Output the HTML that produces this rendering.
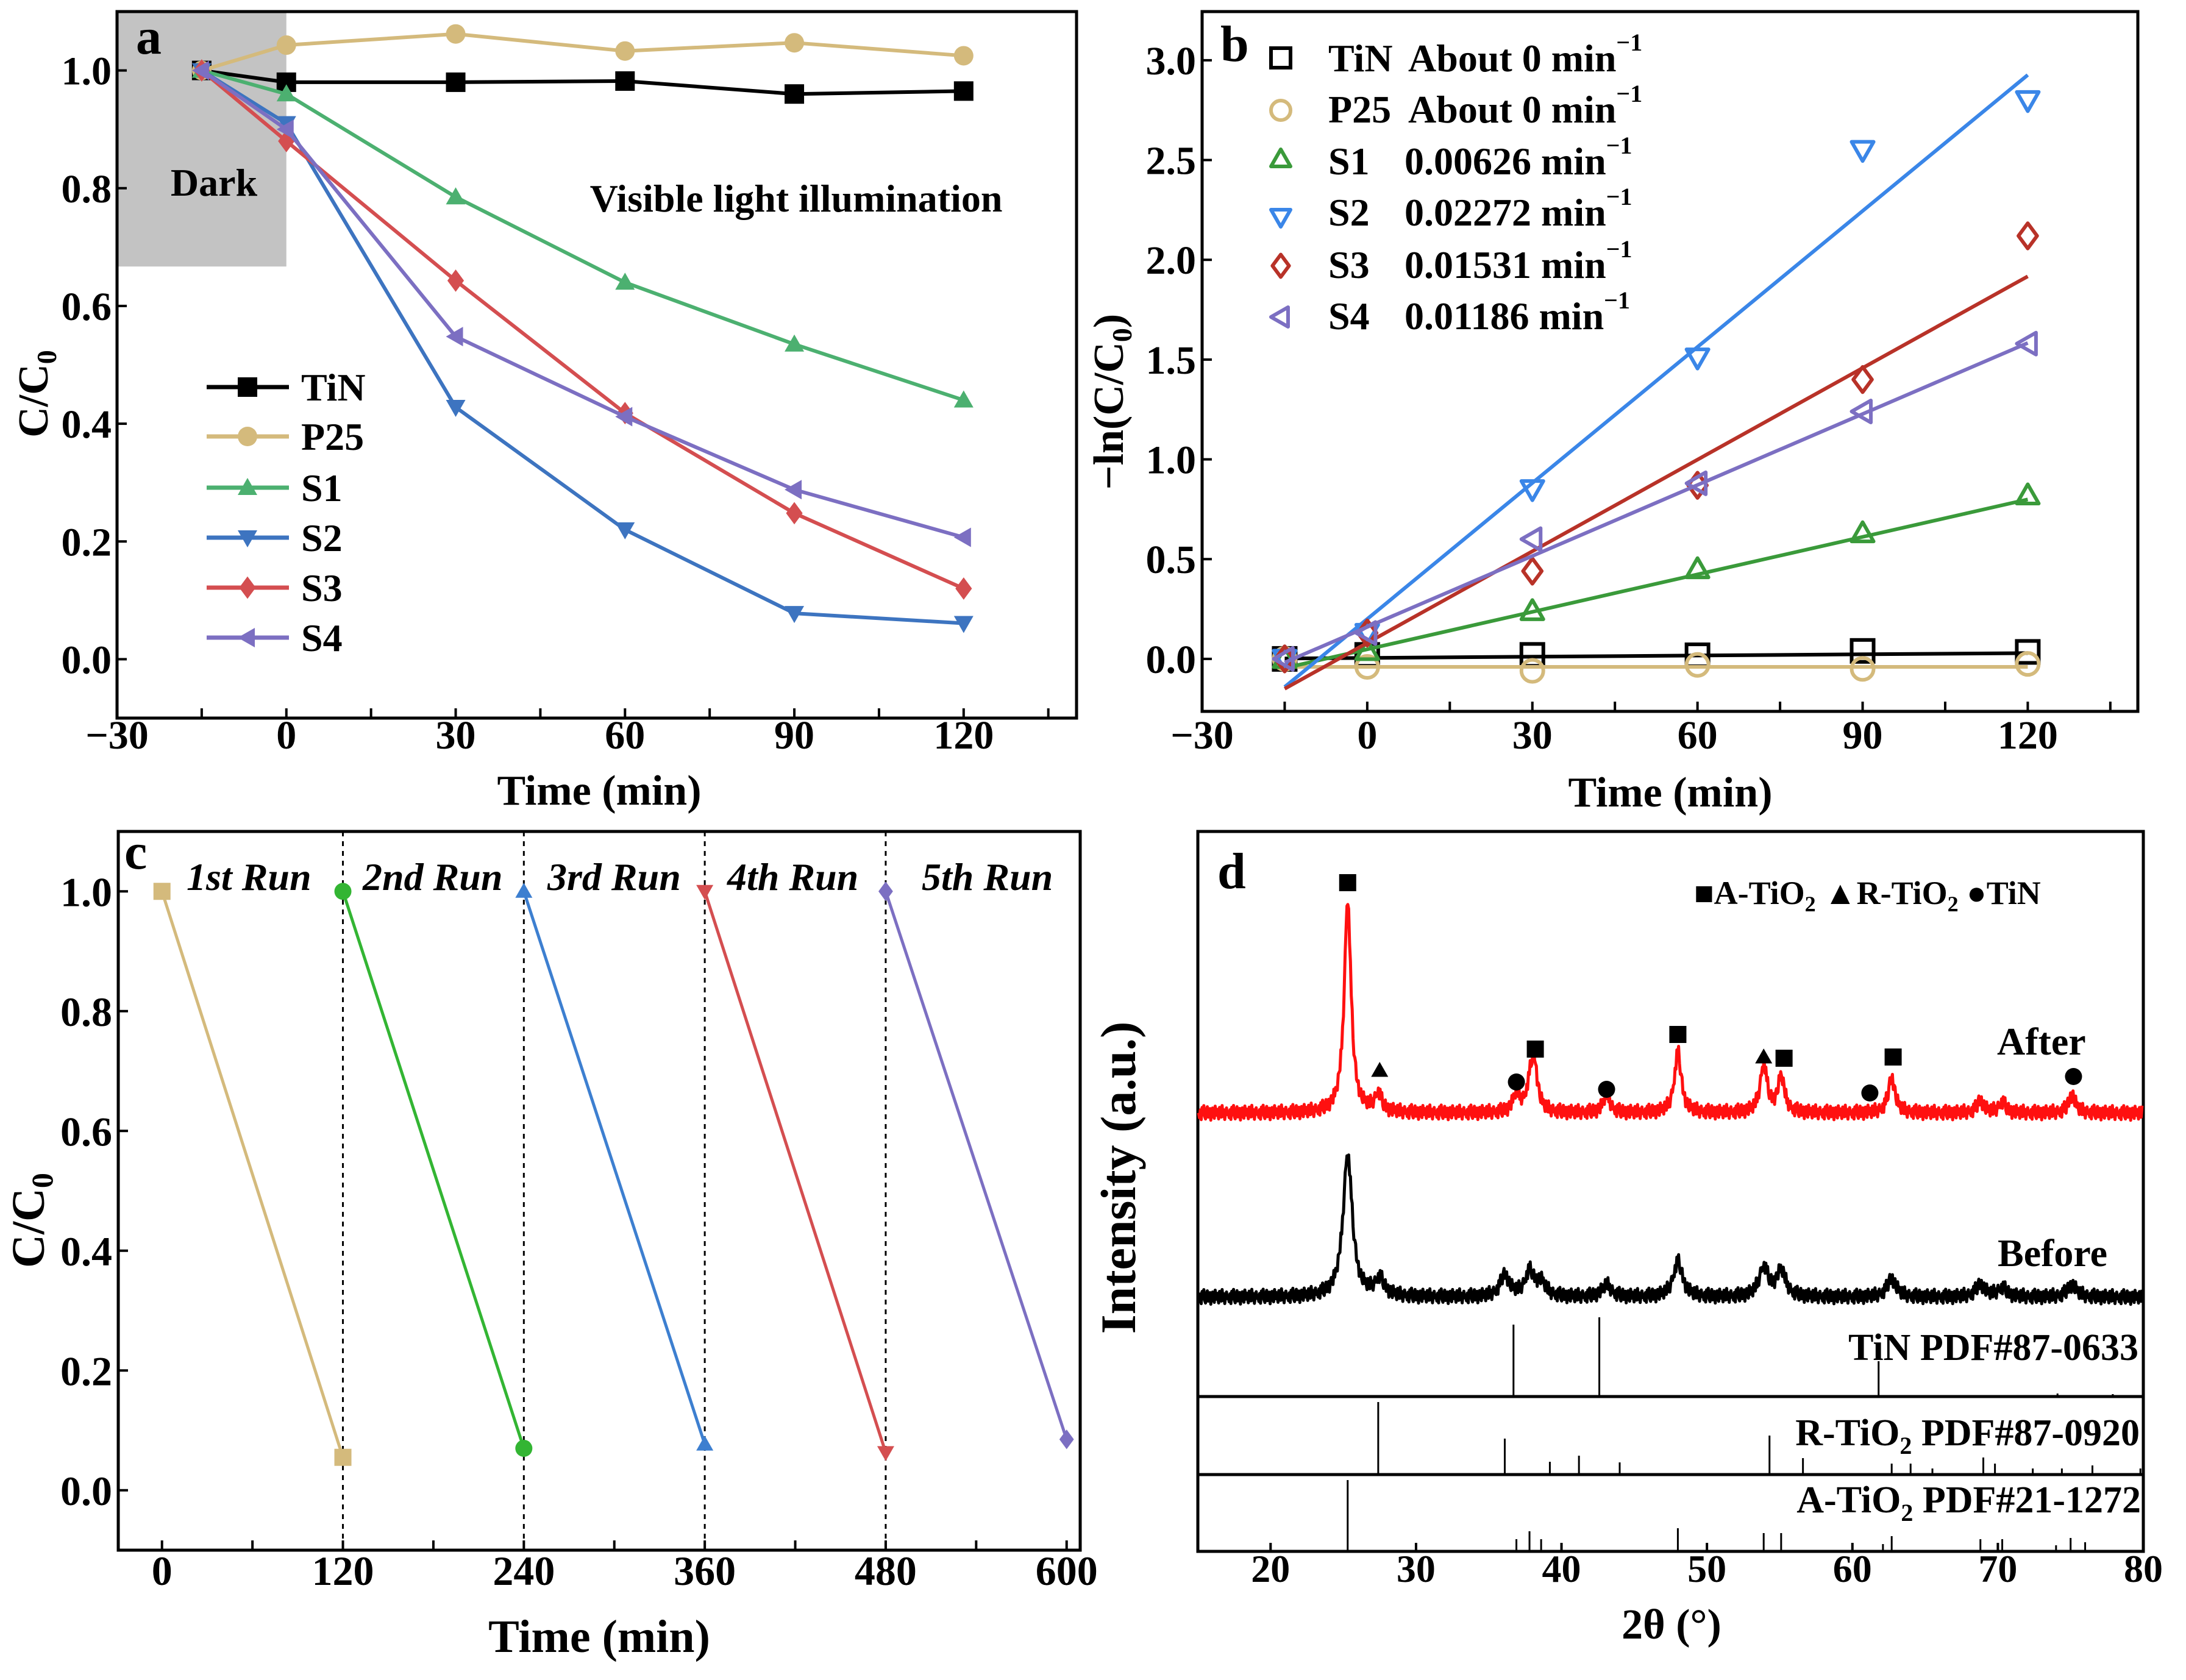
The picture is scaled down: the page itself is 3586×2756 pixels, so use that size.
<!DOCTYPE html>
<html><head><meta charset="utf-8">
<style>
html,body{margin:0;padding:0;background:#fff}
svg{display:block}
text{font-family:"Liberation Serif",serif;font-weight:bold;fill:#000}
</style></head>
<body>
<svg id="fig" width="3586" height="2756" viewBox="0 0 3586 2756" xmlns="http://www.w3.org/2000/svg">
<rect width="3586" height="2756" fill="#fff"/>
</svg>
<script>
// ---------- Panel a data ----------
const aTimes = [-15, 0, 30, 60, 90, 120];
const aTiN = [1.0, 0.98, 0.98, 0.982, 0.96, 0.965];
const aP25 = [1.0, 1.043, 1.062, 1.033, 1.047, 1.025];
const aS1 = [1.0, 0.96, 0.785, 0.64, 0.535, 0.44];
const aS2 = [1.0, 0.91, 0.428, 0.22, 0.078, 0.061];
const aS3 = [1.0, 0.88, 0.643, 0.418, 0.248, 0.12];
const aS4 = [1.0, 0.90, 0.548, 0.412, 0.288, 0.207];
const aXTicks = [-30, 0, 30, 60, 90, 120];
const aYTicks = [0.0, 0.2, 0.4, 0.6, 0.8, 1.0];
// ---------- Panel b data ----------
const bTimes = [-15, 0, 30, 60, 90, 120];
const bTiN = [0, 0.02, 0.02, 0.018, 0.04, 0.035];
const bP25 = [0, -0.04, -0.06, -0.03, -0.05, -0.025];
const bS1 = [0, 0.04, 0.24, 0.45, 0.63, 0.82];
const bS2 = [0, 0.13, 0.85, 1.51, 2.55, 2.80];
const bS3 = [0, 0.13, 0.44, 0.87, 1.40, 2.12];
const bS4 = [0, 0.13, 0.60, 0.88, 1.24, 1.58];
const bSlopes = [0.0002, 0.0, 0.00626, 0.02272, 0.01531, 0.01186];
const bIntercepts = [0.005, -0.04, 0.048, 0.2, 0.08, 0.16];
const bRates = ["About 0 min", "About 0 min", "0.00626 min", "0.02272 min", "0.01531 min", "0.01186 min"];
const bXTicks = [-30, 0, 30, 60, 90, 120];
const bYTicks = [0.0, 0.5, 1.0, 1.5, 2.0, 2.5, 3.0];
// ---------- Panel c data ----------
const cRunStart = [0, 120, 240, 360, 480];
const cRunEnd = [120, 240, 360, 480, 600];
const cStartVal = [1.0, 1.0, 1.0, 1.0, 1.0];
const cEndVal = [0.055, 0.07, 0.077, 0.063, 0.085];
const cRunLabels = ["1st Run", "2nd Run", "3rd Run", "4th Run", "5th Run"];
const cXTicks = [0, 120, 240, 360, 480, 600];
const cYTicks = [0.0, 0.2, 0.4, 0.6, 0.8, 1.0];
// ---------- Panel d data ----------
const dAfterPos = [25.3, 27.4, 36.9, 37.8, 38.1, 43.1, 48.0, 53.9, 55.1, 62.7, 68.8, 70.3, 75.1];
const dAfterH = [350, 30, 30, 25, 85, 30, 100, 80, 58, 58, 20, 18, 30];
const dBeforePos = [25.3, 27.5, 36.1, 37.8, 38.6, 43.1, 48.0, 53.9, 55.1, 62.7, 68.8, 70.3, 75.1];
const dBeforeH = [235, 28, 35, 40, 22, 20, 58, 48, 42, 30, 20, 15, 20];
const dTiNPos = [36.7, 42.6, 61.8, 74.1, 77.9];
const dTiNH = [118, 130, 58, 5, 4];
const dRutPos = [27.4, 36.1, 39.2, 41.2, 44.0, 54.3, 56.6, 62.7, 64.0, 65.5, 69.0, 69.8, 72.4, 74.4, 76.5, 79.8];
const dRutH = [119, 59, 21, 31, 20, 64, 27, 18, 18, 10, 28, 18, 10, 10, 15, 10];
const dAnaPos = [25.3, 36.9, 37.8, 38.6, 48.0, 53.9, 55.1, 62.1, 62.7, 68.8, 70.3, 74.0, 75.0, 76.0];
const dAnaH = [117, 20, 33, 20, 38, 30, 30, 12, 25, 20, 20, 10, 22, 15];
const dMarkPos = [25.3, 27.5, 36.9, 38.2, 43.1, 48.0, 53.9, 55.3, 61.2, 62.8, 75.2];
const dMarkType = ["sq", "tri", "cir", "sq", "cir", "sq", "tri", "sq", "cir", "sq", "cir"];
const dMarkH = [378, 70, 51, 105, 39, 129, 92, 90, 33, 92, 60];
const dXTicks = [20, 30, 40, 50, 60, 70, 80];
// fixed texture pattern (px) to mimic detector noise band
const dNoise = [0, 8, -5, 11, -9, 3, -12, 6, 10, -4, -10, 7, 2, -7, 12, -3, -8, 5, 9, -11, 4, -6, 1, 10, -9, -2, 7, -12, 6, -5, 11, -1, -8, 3];

const NS = "http://www.w3.org/2000/svg";
const svg = document.getElementById('fig');
function el(tag, attrs, parent) {
  const e = document.createElementNS(NS, tag);
  for (const k in attrs) e.setAttribute(k, attrs[k]);
  (parent || svg).appendChild(e);
  return e;
}
function txt(s, x, y, size, anchor, parent, extra) {
  const t = el('text', Object.assign({x: x, y: y, 'font-size': size, 'text-anchor': anchor || 'start'}, extra || {}), parent);
  t.textContent = s;
  return t;
}
function scale(d0, d1, r0, r1) { return v => r0 + (v - d0) / (d1 - d0) * (r1 - r0); }
function fmt(v, n) { const s = v.toFixed(n); return v < 0 ? '\u2212' + s.slice(1) : s; }

function marker(g, type, x, y, s, color, open) {
  const sw = open ? 6 : 0, fill = open ? 'none' : color, st = open ? color : 'none';
  let m;
  if (type === 'sq') m = el('rect', {x: x - s/2, y: y - s/2, width: s, height: s, fill: fill, stroke: st, 'stroke-width': sw}, g);
  else if (type === 'cir') m = el('circle', {cx: x, cy: y, r: s/2, fill: fill, stroke: st, 'stroke-width': sw}, g);
  else {
    let pts;
    const h = s/2;
    if (type === 'tri') pts = [[x, y - h], [x + h, y + h*0.75], [x - h, y + h*0.75]];
    else if (type === 'dtri') pts = [[x, y + h], [x + h, y - h*0.75], [x - h, y - h*0.75]];
    else if (type === 'dia') pts = [[x, y - h*1.15], [x + h*0.85, y], [x, y + h*1.15], [x - h*0.85, y]];
    else pts = [[x - h, y], [x + h*0.75, y - h], [x + h*0.75, y + h]];
    m = el('polygon', {points: pts.map(p => p.join(',')).join(' '), fill: fill, stroke: st, 'stroke-width': sw, 'stroke-linejoin': 'round'}, g);
  }
  return m;
}

function frame(g, L, T, R, B) {
  el('rect', {x: L, y: T, width: R - L, height: B - T, fill: 'none', stroke: '#000', 'stroke-width': 5}, g);
}

// ================= Panel a =================
(function () {
  const g = el('g', {});
  
  
  const L = 192, R = 1766, T = 19, B = 1178;
  const X = scale(-30, 140, L, R), Y = scale(-0.1, 1.1, B, T);
  const box = el('rect', {x: X(-30), y: Y(1.1), width: X(0) - X(-30), height: Y(0.667) - Y(1.1), fill: '#c3c3c3'}, g);
  
  
  frame(g, L, T, R, B);
  for (let v = -15; v <= 135; v += 15) el('line', {x1: X(v), x2: X(v), y1: B, y2: B - 16, stroke: '#000', 'stroke-width': 4}, g);
  aXTicks.forEach(v => {
    const t = txt(fmt(v, 0), X(v), 1228, 66, 'middle', g);
    
    
  });
  aYTicks.forEach(v => {
    el('line', {x1: L, x2: L + 16, y1: Y(v), y2: Y(v), stroke: '#000', 'stroke-width': 4}, g);
    const t = txt(v.toFixed(1), 183, Y(v) + 23, 66, 'end', g);
    
    
  });
  const xt = txt('Time (min)', 983, 1320, 70, 'middle', g);
  
  
  const yt = el('text', {x: 0, y: 0, 'font-size': 70, 'text-anchor': 'middle', transform: 'translate(78,646) rotate(-90)'}, g);
  
  
  yt.innerHTML = 'C/C<tspan font-size="46" dy="14">0</tspan>';
  const lab = txt('a', 223, 88, 84, 'start', g);
  
  
  const dk = txt('Dark', 351, 321, 64, 'middle', g);
  
  
  const vl = txt('Visible light illumination', 1306, 347, 64, 'middle', g);
  
  
  const series = [aTiN, aP25, aS1, aS2, aS3, aS4];
  const names = ['TiN', 'P25', 'S1', 'S2', 'S3', 'S4'];
  const colors = ['#000000', '#d4ba7c', '#4cb070', '#3d74c0', '#d44e50', '#7c6fc2'];
  const marks = ['sq', 'cir', 'tri', 'dtri', 'dia', 'ltri'];
  series.forEach((s, i) => {
    const sg = el('g', {}, g);
    
    
    el('polyline', {points: s.map((v, j) => X(aTimes[j]) + ',' + Y(v)).join(' '), fill: 'none', stroke: colors[i], 'stroke-width': 6, 'stroke-linejoin': 'round'}, sg);
    s.forEach((v, j) => {
      const m = marker(sg, marks[i], X(aTimes[j]), Y(v), 32, colors[i], false);
      
      
    });
  });
  const ly = [635, 716, 800, 882, 964, 1046];
  names.forEach((n, i) => {
    const lg = el('g', {}, g);
    
    
    el('line', {x1: 339, x2: 474, y1: ly[i], y2: ly[i], stroke: colors[i], 'stroke-width': 7}, lg);
    marker(lg, marks[i], 406, ly[i], 32, colors[i], false);
    txt(n, 494, ly[i] + 22, 64, 'start', lg);
  });
})();

// ================= Panel b =================
(function () {
  const g = el('g', {});
  
  
  const L = 1972, R = 3507, T = 19, B = 1167;
  const X = scale(-30, 140, L, R), Y = scale(-0.263, 3.244, B, T);
  frame(g, L, T, R, B);
  for (let v = -15; v <= 135; v += 15) el('line', {x1: X(v), x2: X(v), y1: B, y2: B - 16, stroke: '#000', 'stroke-width': 4}, g);
  bXTicks.forEach(v => {
    const t = txt(fmt(v, 0), X(v), 1228, 66, 'middle', g);
    
    
  });
  bYTicks.forEach(v => {
    el('line', {x1: L, x2: L + 16, y1: Y(v), y2: Y(v), stroke: '#000', 'stroke-width': 4}, g);
    const t = txt(v.toFixed(1), 1962, Y(v) + 23, 66, 'end', g);
    
    
  });
  const xt = txt('Time (min)', 2740, 1323, 70, 'middle', g);
  
  
  const yt = el('text', {x: 0, y: 0, 'font-size': 70, 'text-anchor': 'middle', transform: 'translate(1842,659) rotate(-90)'}, g);
  
  
  yt.innerHTML = '\u2212ln(C/C<tspan font-size="46" dy="14">0</tspan><tspan dy="-14">)</tspan>';
  const lab = txt('b', 2002, 100, 84, 'start', g);
  
  
  const series = [bTiN, bP25, bS1, bS2, bS3, bS4];
  const names = ['TiN', 'P25', 'S1', 'S2', 'S3', 'S4'];
  const colors = ['#000000', '#d4ba7c', '#3a9a3a', '#3a86e8', '#b83228', '#7c6fc2'];
  const marks = ['sq', 'cir', 'tri', 'dtri', 'dia', 'ltri'];
  series.forEach((s, i) => {
    const sg = el('g', {}, g);
    
    
    const f = t => bIntercepts[i] + bSlopes[i] * t;
    const fl = el('line', {x1: X(-15), y1: Y(f(-15)), x2: X(120), y2: Y(f(120)), stroke: colors[i], 'stroke-width': 6}, sg);
    
    
    s.forEach((v, j) => {
      const m = marker(sg, marks[i], X(bTimes[j]), Y(v), 36, colors[i], true);
      
      
    });
  });
  const my = [95, 181, 261, 356, 436, 520];
  const by = [117, 201, 286, 370, 456, 540];
  names.forEach((n, i) => {
    const lg = el('g', {}, g);
    
    
    marker(lg, marks[i], 2101, my[i], 32, colors[i], true);
    txt(n, 2179, by[i], 64, 'start', lg);
    const t = txt(bRates[i], i < 2 ? 2310 : 2304, by[i], 64, 'start', lg);
    const sup = el('tspan', {'font-size': 40, dy: -34}, t);
    sup.textContent = '\u22121';
  });
})();

// ================= Panel c =================
(function () {
  const g = el('g', {});
  
  
  const L = 194, R = 1772, T = 1364, B = 2543;
  const X = scale(-29, 609, L, R), Y = scale(-0.1, 1.1, B, T);
  frame(g, L, T, R, B);
  for (let v = 0; v <= 600; v += 60) el('line', {x1: X(v), x2: X(v), y1: B, y2: B - 16, stroke: '#000', 'stroke-width': 4}, g);
  cXTicks.forEach(v => {
    const t = txt(String(v), X(v), 2600, 68, 'middle', g);
    
    
  });
  cYTicks.forEach(v => {
    el('line', {x1: L, x2: L + 16, y1: Y(v), y2: Y(v), stroke: '#000', 'stroke-width': 4}, g);
    const t = txt(v.toFixed(1), 184, Y(v) + 24, 68, 'end', g);
    
    
  });
  [120, 240, 360, 480].forEach(v => {
    const d = el('line', {x1: X(v), x2: X(v), y1: T, y2: B, stroke: '#000', 'stroke-width': 3, 'stroke-dasharray': '8,8'}, g);
    
    
  });
  const xt = txt('Time (min)', 983, 2710, 76, 'middle', g);
  
  
  const yt = el('text', {x: 0, y: 0, 'font-size': 76, 'text-anchor': 'middle', transform: 'translate(72,2002) rotate(-90)'}, g);
  
  
  yt.innerHTML = 'C/C<tspan font-size="50" dy="14">0</tspan>';
  const lab = txt('c', 204, 1425, 84, 'start', g);
  
  
  const colors = ['#d4ba7c', '#33b533', '#3d7fd0', '#d44e50', '#7c6fc2'];
  const marks = ['sq', 'cir', 'tri', 'dtri', 'dia'];
  const lx = [306, 595, 898, 1193, 1512];
  cRunStart.forEach((s, i) => {
    const sg = el('g', {}, g);
    
    
    el('line', {x1: X(s), y1: Y(cStartVal[i]), x2: X(cRunEnd[i]), y2: Y(cEndVal[i]), stroke: colors[i], 'stroke-width': 5}, sg);
    marker(sg, marks[i], X(s), Y(cStartVal[i]), 28, colors[i], false);
    marker(sg, marks[i], X(cRunEnd[i]), Y(cEndVal[i]), 28, colors[i], false);
    const t = txt(cRunLabels[i], lx[i], 1460, 64, 'start', sg, {'font-style': 'italic'});
    
    
  });
})();

// ================= Panel d =================
(function () {
  const g = el('g', {});
  
  
  const L = 1965, R = 3516, T = 1364, B = 2545, D1 = 2291, D2 = 2419;
  const X = scale(15, 80, L, R);
  frame(g, L, T, R, B);
  el('line', {x1: L, x2: R, y1: D1, y2: D1, stroke: '#000', 'stroke-width': 5}, g);
  el('line', {x1: L, x2: R, y1: D2, y2: D2, stroke: '#000', 'stroke-width': 5}, g);
  dXTicks.forEach(v => {
    el('line', {x1: X(v), x2: X(v), y1: B, y2: B - 14, stroke: '#000', 'stroke-width': 4}, g);
    const t = txt(String(v), X(v), 2595, 64, 'middle', g);
    
    
  });
  const xt = txt('2\u03b8 (\u00b0)', 2742, 2688, 70, 'middle', g);
  
  
  const yt = txt('Intensity (a.u.)', 0, 0, 82, 'middle', g, {transform: 'translate(1862,1932) rotate(-90)'});
  
  
  const lab = txt('d', 1997, 1457, 84, 'start', g);
  
  
  function pattern(pos, hs, base, w, color, name) {
    const pts = [];
    let k = 0;
    for (let a = 15.05; a <= 79.95; a += 0.06) {
      let v = 0;
      pos.forEach((p, j) => { const d = (a - p) / w; v += hs[j] / (1 + d * d); });
      const n = dNoise[k % dNoise.length];
      k++;
      pts.push(X(a).toFixed(1) + ',' + (base - v + n).toFixed(1));
    }
    const p = el('polyline', {points: pts.join(' '), fill: 'none', stroke: color, 'stroke-width': 5, 'stroke-linejoin': 'round'}, g);
    
    
  }
  pattern(dAfterPos, dAfterH, 1826, 0.28, '#ff1010', 'after-pattern');
  pattern(dBeforePos, dBeforeH, 2128, 0.38, '#000', 'before-pattern');
  function sticks(pos, hs, base, name) {
    const sg = el('g', {}, g);
    
    
    pos.forEach((p, k) => el('line', {x1: X(p), x2: X(p), y1: base, y2: base - hs[k], stroke: '#000', 'stroke-width': 3}, sg));
  }
  sticks(dTiNPos, dTiNH, D1, 'tin-reference');
  sticks(dRutPos, dRutH, D2, 'rutile-reference');
  sticks(dAnaPos, dAnaH, B, 'anatase-reference');
  dMarkPos.forEach((p, k) => {
    const m = marker(g, dMarkType[k], X(p), 1826 - dMarkH[k], 28, '#000', false);
    
    
  });
  const a1 = txt('After', 3276, 1730, 64, 'start', g);
  
  
  const b1 = txt('Before', 3277, 2077, 64, 'start', g);
  
  
  const t1 = txt('TiN PDF#87-0633', 3508, 2231, 62, 'end', g);
  
  
  const t2 = el('text', {x: 3510, y: 2371, 'font-size': 62, 'text-anchor': 'end'}, g);
  
  
  t2.innerHTML = 'R-TiO<tspan font-size="40" dy="14">2</tspan><tspan dy="-14"> PDF#87-0920</tspan>';
  const t3 = el('text', {x: 3512, y: 2481, 'font-size': 62, 'text-anchor': 'end'}, g);
  
  
  t3.innerHTML = 'A-TiO<tspan font-size="40" dy="14">2</tspan><tspan dy="-14"> PDF#21-1272</tspan>';
  const lg = el('text', {x: 2779, y: 1483, 'font-size': 54}, g);
  
  
  lg.innerHTML = '\u25a0A-TiO<tspan font-size="36" dy="12">2</tspan><tspan dy="-12"> \u25b2R-TiO</tspan><tspan font-size="36" dy="12">2</tspan><tspan dy="-12"> \u25cfTiN</tspan>';
})();
</script>
</body></html>
